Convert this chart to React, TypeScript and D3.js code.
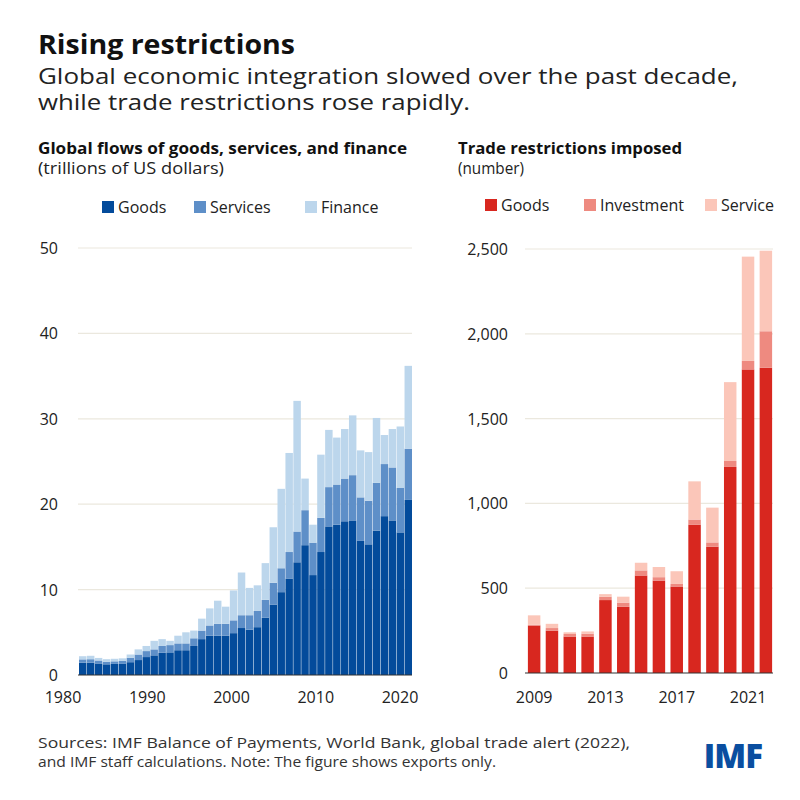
import React from "react";
import * as d3 from "d3";

const years = d3.range(1980, 2022);
const goods = [1.44,1.45,1.35,1.25,1.3,1.3,1.5,1.75,2.1,2.3,2.6,2.65,2.9,2.9,3.4,4.2,4.6,4.6,4.6,4.9,5.5,5.3,5.6,6.7,8.25,9.7,11.3,13.2,15.2,11.7,14.4,17.4,17.6,18.0,18.1,15.7,15.3,16.9,18.6,18.1,16.7,20.5];
const servicesTop = [1.83,1.85,1.7,1.55,1.6,1.65,2.0,2.4,2.8,3.0,3.4,3.5,3.7,3.7,4.3,5.2,5.8,6.0,6.0,6.4,7.0,7.0,7.5,8.8,10.8,12.5,14.4,16.8,19.3,15.5,18.4,22.0,22.3,23.0,23.4,20.8,20.4,22.5,24.7,24.3,21.9,26.5];
const financeTop = [2.2,2.25,2.0,1.85,1.9,1.95,2.4,3.0,3.4,4.0,4.2,4.0,4.6,5.0,5.2,6.6,7.8,8.7,8.0,9.9,12.0,10.2,10.5,13.1,17.3,21.8,26.0,32.1,23.0,17.6,25.8,28.7,27.8,28.8,30.4,26.3,26.1,30.1,28.1,28.8,29.1,36.2];
const leftTicks = [0,10,20,30,40,50];
const leftXLabels = [1980,1990,2000,2010,2020];

const rYears = d3.range(2009, 2023);
const rGoods = [280,250,215,215,430,390,575,545,510,875,745,1215,1790,1800];
const rInvTop = [285,265,230,232,450,415,605,565,525,905,770,1250,1840,2015];
const rServTop = [340,290,240,245,465,450,650,625,600,1130,975,1715,2455,2490];
const rightTicks = [0,500,1000,1500,2000,2500];
const rightXLabels = [2009,2013,2017,2021];

const F = "'Open Sans', Lato, sans-serif";
const blue = ["#034b9b", "#5e8fc8", "#bcd6ec"];
const red = ["#d8271f", "#ee8a80", "#fbc6b9"];

export default function App() {
  const yL = d3.scaleLinear().domain([0, 50]).range([675, 248]);
  const xL = d3.scaleBand<number>().domain(years).range([79, 412]).paddingInner(0.06);
  const xLab = d3.scaleLinear().domain([1980, 2020]).range([63, 400]);
  const yR = d3.scaleLinear().domain([0, 2500]).range([673, 249]);
  const xR = d3.scaleBand<number>().domain(rYears).range([527, 773]).paddingInner(0.3).paddingOuter(0.05);
  const fmt = d3.format(",");
  const leftStacks = [goods.map(() => 0), goods, servicesTop, financeTop];
  const rightStacks = [rGoods.map(() => 0), rGoods, rInvTop, rServTop];
  const la = "spacingAndGlyphs";
  return (
    <svg width={800} height={800} style={{ display: "block", margin: -8 }} fontFamily={F}>
      <rect width={800} height={800} fill="#fff" />
      <text x={38} y={54} fontSize={26} fontWeight={700} fill="#111" textLength={257} lengthAdjust={la}>Rising restrictions</text>
      <text x={38} y={84} fontSize={21.5} fill="#222" textLength={700} lengthAdjust={la}>Global economic integration slowed over the past decade,</text>
      <text x={38} y={110} fontSize={21.5} fill="#222" textLength={432} lengthAdjust={la}>while trade restrictions rose rapidly.</text>

      <text x={38} y={154} fontSize={16} fontWeight={700} fill="#111" textLength={369} lengthAdjust={la}>Global flows of goods, services, and finance</text>
      <text x={38} y={174} fontSize={15.5} fill="#222" textLength={186} lengthAdjust={la}>(trillions of US dollars)</text>
      <text x={458} y={154} fontSize={16} fontWeight={700} fill="#111" textLength={224} lengthAdjust={la}>Trade restrictions imposed</text>
      <text x={458} y={174} fontSize={15.5} fill="#222" textLength={66} lengthAdjust={la}>(number)</text>

      {[["Goods", 102], ["Services", 194], ["Finance", 305]].map(([t, x], i) => (
        <g key={t as string}>
          <rect x={x as number} y={201} width={12} height={12} fill={blue[i]} />
          <text x={(x as number) + 16} y={213} fontSize={16} fill="#222">{t}</text>
        </g>
      ))}
      {[["Goods", 485], ["Investment", 584], ["Service", 705]].map(([t, x], i) => (
        <g key={t as string}>
          <rect x={x as number} y={199} width={12} height={12} fill={red[i]} />
          <text x={(x as number) + 16} y={211} fontSize={16} fill="#222">{t}</text>
        </g>
      ))}

      {leftTicks.map(t => (
        <g key={t}>
          {t > 0 && <line x1={78} x2={412} y1={yL(t)} y2={yL(t)} stroke="#ebe8de" strokeWidth={1.2} />}
          <text x={58} y={yL(t) + 6} fontSize={16} textAnchor="end" fill="#222">{t}</text>
        </g>
      ))}
      {rightTicks.map(t => (
        <g key={t}>
          {t > 0 && <line x1={525} x2={773} y1={yR(t)} y2={yR(t)} stroke="#ebe8de" strokeWidth={1.2} />}
          <text x={508} y={yR(t) + 6} fontSize={16} textAnchor="end" fill="#222">{fmt(t)}</text>
        </g>
      ))}

      {years.map((yr, i) => [0, 1, 2].map(k => (
        <rect key={yr + "-" + k} x={xL(yr)} width={xL.bandwidth()} y={yL(leftStacks[k + 1][i])}
          height={yL(leftStacks[k][i]) - yL(leftStacks[k + 1][i])} fill={blue[k]} />
      )))}
      {rYears.map((yr, i) => [0, 1, 2].map(k => (
        <rect key={yr + "-" + k} x={xR(yr)} width={xR.bandwidth()} y={yR(rightStacks[k + 1][i])}
          height={yR(rightStacks[k][i]) - yR(rightStacks[k + 1][i])} fill={red[k]} />
      )))}

      <line x1={78} x2={412} y1={675} y2={675} stroke="#333" strokeWidth={1.2} />
      <line x1={525} x2={773} y1={673} y2={673} stroke="#333" strokeWidth={1.2} />

      {leftXLabels.map(y => (
        <text key={y} x={xLab(y)} y={703} fontSize={16} textAnchor="middle" fill="#222">{y}</text>
      ))}
      {rightXLabels.map(y => (
        <text key={y} x={xR(y)! + xR.bandwidth() / 2} y={703} fontSize={16} textAnchor="middle" fill="#222">{y}</text>
      ))}

      <text x={38} y={748} fontSize={15} fill="#333" textLength={592} lengthAdjust={la}>Sources: IMF Balance of Payments, World Bank, global trade alert (2022),</text>
      <text x={38} y={767} fontSize={15} fill="#333" textLength={458} lengthAdjust={la}>and IMF staff calculations. Note: The figure shows exports only.</text>
      <text x={762} y={768} fontSize={33} fontWeight={800} textAnchor="end" fill="#0a4ea0" letterSpacing={-1}>IMF</text>
    </svg>
  );
}
